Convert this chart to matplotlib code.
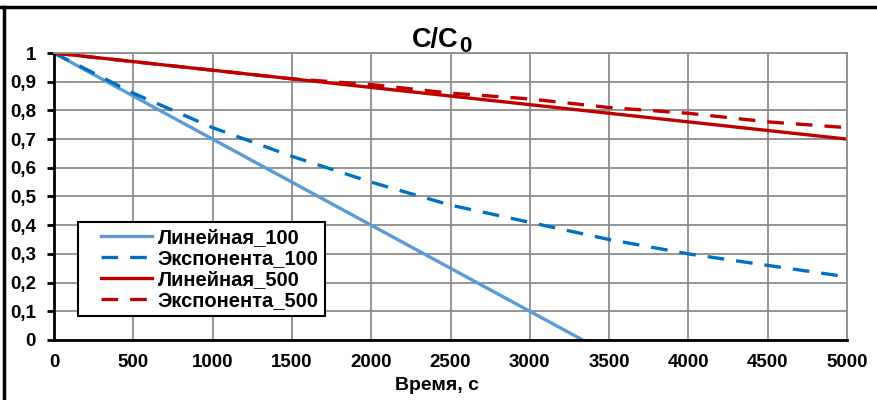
import matplotlib
matplotlib.use("Agg")
import numpy as np
import matplotlib.pyplot as plt
from matplotlib.ticker import FuncFormatter, MultipleLocator
from matplotlib.lines import Line2D
from matplotlib.legend_handler import HandlerLine2D

plt.rcParams['font.family'] = ['Liberation Sans', 'DejaVu Sans']
plt.rcParams['font.weight'] = 'bold'

# Data
t_lin100 = [0, 500, 1000, 1500, 2000, 2500, 3000, 3333]
y_lin100 = [1.0, 0.85, 0.70, 0.55, 0.40, 0.25, 0.10, 0.0]
t_exp = [0, 500, 1000, 1500, 2000, 2500, 3000, 3500, 4000, 4500, 5000]
y_exp100 = [1.0, 0.86, 0.74, 0.64, 0.55, 0.47, 0.41, 0.35, 0.30, 0.26, 0.22]
y_lin500 = [1.0, 0.97, 0.94, 0.91, 0.88, 0.85, 0.82, 0.79, 0.76, 0.73, 0.70]
y_exp500 = [1.0, 0.97, 0.94, 0.91, 0.89, 0.86, 0.84, 0.81, 0.79, 0.76, 0.74]

labels = ["Линейная_100", "Экспонента_100", "Линейная_500", "Экспонента_500"]
title_main = "C/C"
title_sub = "0"
xlabel = "Время, с"

W, H = 877, 400
fig = plt.figure(figsize=(W / 100, H / 100), dpi=100)
ax = fig.add_axes([54/W, 60/H, 793/W, 287/H])

lw = 2.4
dash = (0, (5, 3.6))
ax.plot(t_lin100, y_lin100, color='#5B9BD5', lw=lw, label=labels[0])
ax.plot(t_exp, y_exp100, color='#0070C0', lw=lw, ls=dash, label=labels[1])
ax.plot(t_exp, y_lin500, color='#C00000', lw=lw, label=labels[2])
ax.plot(t_exp, y_exp500, color='#C00000', lw=lw, ls=dash, label=labels[3])

ax.set_xlim(0, 5000)
ax.set_ylim(0, 1)
ax.xaxis.set_major_locator(MultipleLocator(500))
ax.yaxis.set_major_locator(MultipleLocator(0.1))
ax.yaxis.set_major_formatter(FuncFormatter(lambda v, p: ("%g" % round(v, 1)).replace('.', ',')))
ax.grid(True, color='#8C8C8C', lw=1.3)
ax.set_axisbelow(True)
for s in ['top', 'right']:
    ax.spines[s].set_color('#8C8C8C')
    ax.spines[s].set_linewidth(1.3)
for s in ['left', 'bottom']:
    ax.spines[s].set_color('black')
    ax.spines[s].set_linewidth(2)
ax.tick_params(axis='y', length=5, width=2, color='black', labelsize=13.5, pad=8)
ax.tick_params(axis='x', length=0, labelsize=13.5, pad=10)
for lab in ax.get_xticklabels() + ax.get_yticklabels():
    lab.set_fontweight('bold')

fig.text(437/W, 1 - 385/H, xlabel, fontsize=14, fontweight='bold', ha='center', va='center')


class ShiftHandler(HandlerLine2D):
    def __init__(self, shift, **kw):
        super().__init__(**kw)
        self.shift = shift

    def create_artists(self, legend, orig_handle, xdescent, ydescent, width, height, fontsize, trans):
        arts = super().create_artists(legend, orig_handle, xdescent, ydescent, width, height, fontsize, trans)
        for a in arts:
            xd = np.asarray(a.get_xdata(), dtype=float)
            if len(xd) >= 2:
                a.set_xdata(np.linspace(xd[0] + self.shift, xd[-1], len(xd)))
        return arts


handles, labs = ax.get_legend_handles_labels()
leg = ax.legend(handles, labs, loc='upper left', bbox_to_anchor=(78/W, 1 - 222/H),
                bbox_transform=fig.transFigure,
                prop={'weight': 'bold', 'size': 14.5}, handlelength=3.35,
                handler_map={h: ShiftHandler(12) for h in handles},
                fancybox=False, edgecolor='black', framealpha=1,
                borderpad=0.3, labelspacing=0.1, handletextpad=0.3, borderaxespad=0)
leg.get_frame().set_linewidth(1.5)

# title C/C0 with subscript
t1 = fig.text(412/W, 1 - 40/H, title_main, fontsize=19.5, fontweight='bold', ha='left', va='center')
fig.canvas.draw()
bb = t1.get_window_extent()
fig.text((bb.x1 + 1) / W, 1 - 46/H, title_sub, fontsize=16, fontweight='bold', ha='left', va='center')

# outer border lines (top and left)
fig.add_artist(Line2D([0, 1], [1 - 7/H, 1 - 7/H], color='black', lw=2.5, transform=fig.transFigure))
fig.add_artist(Line2D([4/W, 4/W], [0, 1 - 7/H], color='black', lw=2.5, transform=fig.transFigure))

fig.savefig("out.png", dpi=100)
